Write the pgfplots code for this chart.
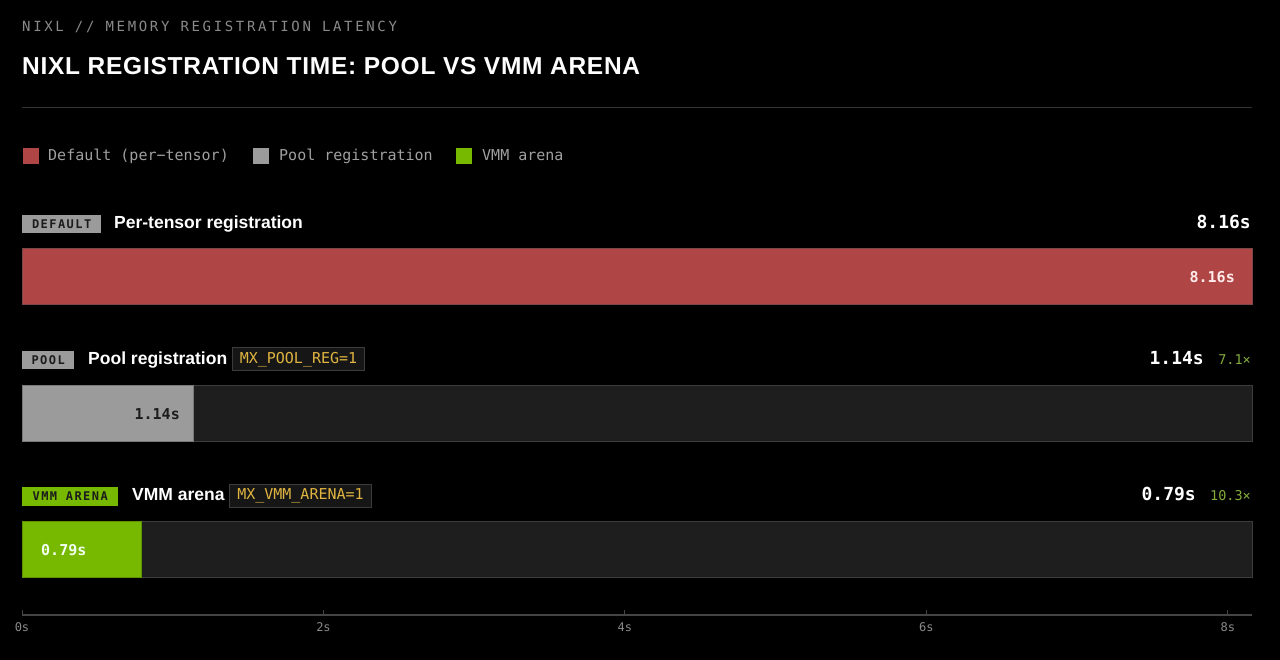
\documentclass[border=0pt]{standalone}
\usepackage{pgfplots}
\pgfplotsset{compat=1.18}
\usepackage{fontspec}
\setmainfont{Liberation Sans}
\newfontfamily\mono{DejaVu Sans Mono}
\newfontfamily\monosp[LetterSpace=19]{DejaVu Sans Mono}
\newfontfamily\tagfont[LetterSpace=12]{DejaVu Sans Mono}
\newfontfamily\titlefont[LetterSpace=3]{Liberation Sans}
\definecolor{redbar}{HTML}{B04545}
\definecolor{rededge}{HTML}{7A4848}
\definecolor{poolbar}{HTML}{9B9B9B}
\definecolor{pooledge}{HTML}{7A7A7A}
\definecolor{vmmbar}{HTML}{76B900}
\definecolor{vmmedge}{HTML}{5E9200}
\definecolor{track}{HTML}{1E1E1E}
\definecolor{trackedge}{HTML}{3D3D3D}
\definecolor{subgray}{HTML}{8A8A8A}
\definecolor{legtext}{HTML}{A0A0A0}
\definecolor{rulegray}{HTML}{333333}
\definecolor{axisgray}{HTML}{444444}
\definecolor{ticktext}{HTML}{8A8A8A}
\definecolor{envtext}{HTML}{E0B440}
\definecolor{envfill}{HTML}{161616}
\definecolor{envedge}{HTML}{3C3C3C}
\definecolor{speed}{HTML}{86AD3C}
\definecolor{tagtext}{HTML}{1C1C1C}
\begin{document}
\begin{tikzpicture}[x=1pt,y=1pt]
\useasboundingbox (0,0) rectangle (1280,660);
\fill[black] (0,0) rectangle (1280,660);
% header
\node[anchor=base west, inner sep=0, text=subgray] at (22,628) {\fontsize{14}{16}\selectfont\monosp NIXL // MEMORY REGISTRATION LATENCY};
\node[anchor=base west, inner sep=0, text=white] at (22,585) {\fontsize{24.5}{28}\selectfont\titlefont\bfseries NIXL REGISTRATION TIME: POOL VS VMM ARENA};
\draw[rulegray, line width=1] (22,552) -- (1252,552);
% legend
\fill[redbar] (23,496) rectangle (39,512);
\node[anchor=base west, inner sep=0, text=legtext] at (48,499) {\fontsize{15}{18}\selectfont\mono Default (per−tensor)};
\fill[poolbar] (253,496) rectangle (269,512);
\node[anchor=base west, inner sep=0, text=legtext] at (279,499) {\fontsize{15}{18}\selectfont\mono Pool registration};
\fill[vmmbar] (456,496) rectangle (472,512);
\node[anchor=base west, inner sep=0, text=legtext] at (482,499) {\fontsize{15}{18}\selectfont\mono VMM arena};

\begin{axis}[at={(22pt,45pt)}, anchor=south west, scale only axis,
  width=1230pt, height=415pt,
  xmin=0, xmax=8.16, ymin=45, ymax=460,
  enlargelimits=false, clip=false,
  axis x line*=bottom, axis y line=none, ytick=\empty,
  x axis line style={-, draw=axisgray, line width=1.5pt},
  xtick={0,2,4,6,8}, xticklabels={0s,2s,4s,6s,8s},
  tick align=inside, major tick length=5pt,
  tick style={draw=axisgray, line width=1pt},
  xticklabel style={font=\fontsize{12}{14}\selectfont\mono, text=ticktext, anchor=base, yshift=-16.5pt},
]
\addplot[xbar, bar shift=0pt, bar width=56pt, fill=track, draw=trackedge, line width=1pt] coordinates {(8.16,246) (8.16,110)};
\addplot[xbar, bar shift=0pt, bar width=56pt, fill=redbar, draw=rededge, line width=1pt] coordinates {(8.16,383)};
\addplot[xbar, bar shift=0pt, bar width=56pt, fill=poolbar, draw=pooledge, line width=1pt] coordinates {(1.14,246)};
\addplot[xbar, bar shift=0pt, bar width=56pt, fill=vmmbar, draw=vmmedge, line width=1pt] coordinates {(0.79,110)};
\end{axis}

% row 1
\node[anchor=west, fill=poolbar, inner sep=0, minimum width=79, minimum height=18, text=tagtext] at (22,436) {\fontsize{12}{14}\selectfont\tagfont\bfseries DEFAULT};
\node[anchor=base west, inner sep=0, text=white] at (114,431) {\fontsize{17.5}{20}\selectfont\bfseries Per-tensor registration};
\node[anchor=base east, inner sep=0, text=white] at (1251,431) {\fontsize{18}{20}\selectfont\mono\bfseries 8.16s};
\node[anchor=base east, inner sep=0, text=white!92!red] at (1235,377.5) {\fontsize{15}{18}\selectfont\mono\bfseries 8.16s};
% row 2
\node[anchor=west, fill=poolbar, inner sep=0, minimum width=52, minimum height=18, text=tagtext] at (22,300) {\fontsize{12}{14}\selectfont\tagfont\bfseries POOL};
\node[anchor=base west, inner sep=0, text=white] at (88,295) {\fontsize{17.5}{20}\selectfont\bfseries Pool registration};
\node[anchor=west, fill=envfill, draw=envedge, line width=1, inner sep=0, minimum width=132, minimum height=23, text=envtext] at (232,300.5) {\fontsize{15}{18}\selectfont\mono MX\_POOL\_REG=1};
\node[anchor=base east, inner sep=0, text=white] at (1204,295) {\fontsize{18}{20}\selectfont\mono\bfseries 1.14s};
\node[anchor=base east, inner sep=0, text=speed] at (1251,295) {\fontsize{13.5}{15}\selectfont\mono 7.1×};
\node[anchor=base east, inner sep=0, text=tagtext] at (180,240.5) {\fontsize{15}{18}\selectfont\mono\bfseries 1.14s};
% row 3
\node[anchor=west, fill=vmmbar, inner sep=0, minimum width=96, minimum height=19, text=tagtext] at (22,163.5) {\fontsize{12}{14}\selectfont\tagfont\bfseries VMM ARENA};
\node[anchor=base west, inner sep=0, text=white] at (132,159) {\fontsize{17.5}{20}\selectfont\bfseries VMM arena};
\node[anchor=west, fill=envfill, draw=envedge, line width=1, inner sep=0, minimum width=142, minimum height=23, text=envtext] at (229,164) {\fontsize{15}{18}\selectfont\mono MX\_VMM\_ARENA=1};
\node[anchor=base east, inner sep=0, text=white] at (1196,159) {\fontsize{18}{20}\selectfont\mono\bfseries 0.79s};
\node[anchor=base east, inner sep=0, text=speed] at (1251,159) {\fontsize{13.5}{15}\selectfont\mono 10.3×};
\node[anchor=base west, inner sep=0, text=white!95!green] at (41,104.5) {\fontsize{15}{18}\selectfont\mono\bfseries 0.79s};
\end{tikzpicture}
\end{document}
